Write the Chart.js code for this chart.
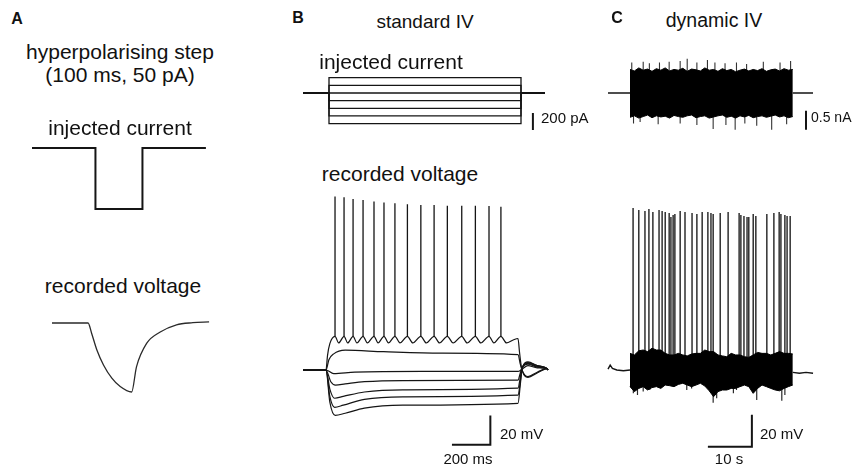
<!DOCTYPE html>
<html>
<head>
<meta charset="utf-8">
<script src="https://cdn.jsdelivr.net/npm/chart.js@4.4.1/dist/chart.umd.min.js"></script>
<style>
  html, body { margin: 0; padding: 0; background: #fff; }
  #fig { position: relative; width: 857px; height: 465px; overflow: hidden; font-family: "Liberation Sans", Arial, sans-serif; color: #111; }
  #fig canvas { position: absolute; }
  .lbl { position: absolute; white-space: nowrap; line-height: 1; }
</style>
</head>
<body>
<div id="fig"></div>
<script>
// ---- Panel A : hyperpolarising step (ms, pA / mV)
const stepTimeA = [0, 135, 135, 235, 235, 370];
const stepCurrentA = [0, 0, -50, -50, 0, 0];
const voltTimeA = [0, 82, 90, 102, 117, 136, 155, 181, 192, 215, 246, 283, 320, 357];
const voltA = [-70, -70, -71.7, -74.5, -77, -79.2, -80.6, -81.5, -77.3, -73.4, -71.5, -70.3, -69.95, -69.8];

// ---- Panel B : standard IV (ms, pA / mV)
const stepTimeB = [-135, 0, 0, 1000, 1000, 1125];
const stepLevelsB = [180, 90, 0, -90, -180, -270, -360];

const vTraceB1 = [[-120,-70],[0,-70],[8,-60],[20,-52],[47,-47],[66,-51.5],[94,-47],[113,-51.5],[141,-47],[161,-51.5],
  [193,-47],[215,-51.5],[250,-47],[271,-51.5],[302,-47],[325,-51.5],[359,-47],[385,-51.5],[424,-47],[452,-51.5],
  [494,-47],[522,-51.5],[563,-47],[591,-51.5],[632,-47],[662,-51.5],[707,-47],[735,-51.5],[778,-47],[806,-51.5],
  [849,-47],[874,-51.5],[911,-47],[940,-51.5],[975,-49.5],[1000,-48.5],[1008,-58],[1018,-68],[1052,-75],[1100,-72],[1151,-69],[1156,-70]];
const vTraceB2 = [[-120,-70],[0,-70],[15,-63],[40,-59],[100,-56.5],[300,-57.5],[600,-58.5],[1000,-59.5],[1012,-66],[1022,-70.5],[1052,-74.5],[1100,-71.5],[1151,-69],[1156,-70]];
const vTraceB3 = [[-120,-70],[0,-70],[40,-72.5],[150,-71.5],[500,-71],[1000,-71],[1020,-69.5],[1052,-67],[1100,-68.5],[1151,-69],[1156,-70]];
const vTraceB4 = [[-120,-70],[0,-70],[25,-78],[50,-80.3],[100,-79.5],[200,-78],[400,-77.2],[1000,-76.9],[1012,-72],[1022,-68.5],[1052,-66],[1100,-68],[1151,-69],[1156,-70]];
const vTraceB5 = [[-120,-70],[0,-70],[20,-83],[45,-89.3],[90,-88],[200,-85],[400,-83.5],[1000,-82.4],[1012,-75],[1022,-68.5],[1052,-65.5],[1100,-67.5],[1151,-69],[1156,-70]];
const vTraceB6 = [[-120,-70],[0,-70],[20,-88],[45,-95.5],[90,-94],[200,-90],[400,-88.3],[1000,-87.2],[1012,-78],[1022,-68.5],[1052,-65],[1100,-67],[1151,-69],[1156,-70]];
const vTraceB7 = [[-120,-70],[0,-70],[20,-92],[48,-101],[100,-99.5],[200,-96],[400,-94],[1000,-92.8],[1012,-80],[1022,-68.5],[1052,-64.5],[1100,-67],[1151,-69],[1156,-70]];
const spikeTimesB = [47, 94, 141, 193, 250, 302, 359, 424, 494, 563, 632, 707, 778, 849, 911];
const spikePeaksB = [48.4, 47.9, 46.8, 46.1, 45.0, 44.3, 43.8, 43.1, 42.6, 42.6, 42.2, 42.2, 42.2, 41.9, 41.5];

// ---- Panel C : dynamic IV (s, nA / mV)
const noiseTimesC = [0,1,2,3,4,5,6,7,8,9,10,11,12,13,14,15,16,17,18,19,20,21,22,23,24,25,26,27,28,29,30,31,32,33,34,35,36,37];
const currTopC = [0.62,0.58,0.66,0.6,0.63,0.57,0.64,0.6,0.66,0.58,0.62,0.6,0.65,0.57,0.63,0.61,0.58,0.66,0.6,0.62,0.57,0.64,0.59,0.62,0.56,0.6,0.63,0.58,0.62,0.59,0.64,0.57,0.61,0.63,0.58,0.64,0.6,0.62];
const currBotC = [-0.64,-0.6,-0.66,-0.62,-0.58,-0.65,-0.6,-0.63,-0.61,-0.66,-0.59,-0.62,-0.64,-0.6,-0.58,-0.65,-0.62,-0.6,-0.66,-0.63,-0.6,-0.58,-0.64,-0.61,-0.66,-0.6,-0.63,-0.59,-0.65,-0.62,-0.6,-0.64,-0.61,-0.58,-0.63,-0.6,-0.65,-0.62];
const currUpTimesC = [0.4, 3.0, 4.4, 6.7, 8.9, 11.4, 13.0, 15.2, 17.6, 19.3, 21.6, 24.2, 26.5, 30.3, 34.1, 36.5];
const currUpValsC = [0.8, 0.82, 0.78, 0.8, 0.82, 0.84, 0.9, 0.8, 0.87, 0.8, 0.78, 0.8, 0.76, 0.82, 0.8, 0.84];
const currDownTimesC = [0.8, 2.3, 6.4, 11.4, 15.2, 18.9, 21.8, 23.9, 26.1, 28.8, 32.2, 35.6];
const currDownValsC = [-0.8, -0.76, -0.82, -0.8, -0.84, -0.95, -0.84, -0.97, -0.8, -0.86, -0.97, -0.82];

const voltTopC = [-59.6,-60.6,-58,-57.5,-58.5,-56.4,-57.5,-57.5,-59.6,-60.6,-60.6,-59.6,-60.6,-61.2,-60,-59.6,-59.6,-57.5,-58.5,-58.5,-60.6,-61.2,-61.7,-59.6,-60.6,-60.6,-61.7,-62.1,-60.6,-59,-59.6,-59.6,-60.6,-59.6,-58.5,-59.6,-59.6,-60];
const voltBotC = [-80.4,-83.5,-81.5,-80.4,-82.5,-81,-80.4,-81.5,-79.4,-79.8,-80.4,-79,-78.3,-79.4,-80.4,-79.4,-78.3,-80,-83,-86.7,-83.5,-82.5,-82.5,-81.5,-81.5,-80.4,-79.4,-80.4,-84.6,-81.5,-79.4,-80.4,-81.5,-82.5,-83,-81.5,-80.4,-79.4];
const voltDownTimesC = [0.76, 1.7, 3.0, 4.5, 12.9, 14.0, 18.9, 19.7, 23.5, 24.2, 28.8, 34.5, 35.2];
const voltDownValsC = [-84.6, -85.6, -83.5, -82.5, -82.5, -81.5, -90.4, -87.7, -84.6, -82.5, -88.75, -89.2, -85.6];
const restLeftC = [[-5,-69.5],[-4.5,-67],[-4,-69],[-3,-70],[-1.5,-70.5],[0,-70]];
const restRightC = [[37,-71.5],[38.5,-72],[40,-71.5],[41.6,-72]];
const spikeTimesC = [0.7, 2.0, 3.4, 4.3, 5.2, 6.6, 7.3, 8.0, 8.9, 9.3, 9.8, 10.2, 11.4, 12.5, 14.1, 15.2, 16.4, 17.7, 18.4, 18.9,
  20.5, 22.3, 24.8, 25.2, 25.9, 26.6, 27.0, 28.0, 28.6, 31.1, 32.7, 33.9, 34.3, 35.2, 35.7, 36.4];
const spikePeaksC = [31.3, 30.0, 29.4, 30.6, 28.8, 30.0, 29.4, 28.8, 28.1, 25.6, 26.9, 27.5, 29.4, 28.8, 28.1, 27.5, 28.8, 28.8, 28.1, 27.5,
  28.1, 28.8, 28.1, 26.9, 26.3, 25.6, 25.6, 27.5, 26.3, 27.5, 28.1, 28.8, 27.5, 26.9, 26.3, 26.3];

const INK = '#151515';
const fig = document.getElementById('fig');

const pts = (xs, ys) => xs.map((x, i) => ({ x: x, y: ys[i] }));
const pairs = arr => arr.map(p => ({ x: p[0], y: p[1] }));
// vertical strokes from a base level, broken by gaps
const strokes = (ts, base, tops) => ts.flatMap((t, i) => [
  { x: t, y: Array.isArray(base) ? base[i] : base }, { x: t, y: tops[i] }, { x: t, y: null }
]);

function line(data, opts) {
  return Object.assign({ data: data, borderColor: INK, borderWidth: 1.2, pointRadius: 0, fill: false, tension: 0 }, opts || {});
}

// one chart per trace block; the scale range is chosen so that data units land at the right spot
function block(box, xmap, ymap, datasets) {
  const cv = document.createElement('canvas');
  cv.width = box.w; cv.height = box.h;
  cv.style.left = box.x + 'px'; cv.style.top = box.y + 'px';
  fig.appendChild(cv);
  const xMin = xmap.val + (box.x - xmap.px) / xmap.scale;
  const xMax = xmap.val + (box.x + box.w - xmap.px) / xmap.scale;
  const yMax = ymap.val + (ymap.px - box.y) / ymap.scale;
  const yMin = ymap.val + (ymap.px - box.y - box.h) / ymap.scale;
  return new Chart(cv, {
    type: 'line',
    data: { datasets: datasets },
    options: {
      responsive: false,
      animation: false,
      events: [],
      layout: { padding: 0 },
      plugins: { legend: { display: false }, tooltip: { enabled: false }, title: { display: false } },
      scales: {
        x: { type: 'linear', display: false, min: xMin, max: xMax },
        y: { type: 'linear', display: false, min: yMin, max: yMax }
      }
    }
  });
}

function label(text, x, y, size, opts) {
  opts = opts || {};
  const d = document.createElement('div');
  d.className = 'lbl';
  d.textContent = text;
  d.style.left = x + 'px';
  d.style.top = y + 'px';
  d.style.fontSize = size + 'px';
  if (opts.bold) d.style.fontWeight = 'bold';
  d.style.transform = opts.left ? 'translate(0,-50%)' : 'translate(-50%,-50%)';
  fig.appendChild(d);
}

// ---------- Panel A
block({ x: 20, y: 135, w: 200, h: 90 }, { px: 32, val: 0, scale: 0.47 }, { px: 148, val: 0, scale: 1.22 }, [
  line(pts(stepTimeA, stepCurrentA), { borderWidth: 2 })
]);
block({ x: 40, y: 305, w: 185, h: 100 }, { px: 52, val: 0, scale: 0.44 }, { px: 323, val: -70, scale: 6 }, [
  line(pts(voltTimeA, voltA), { cubicInterpolationMode: 'monotone', borderWidth: 1.3, borderColor: '#2a2a2a' })
]);

// ---------- Panel B
block({ x: 295, y: 65, w: 260, h: 75 }, { px: 329, val: 0, scale: 0.192 }, { px: 93, val: 0, scale: 0.085 },
  stepLevelsB.map(l => line(pts(stepTimeB, [0, 0, l, l, 0, 0]), { borderWidth: 1.3 }))
    .concat([line([{ x: 1062, y: -235 }, { x: 1062, y: -435 }], { borderWidth: 2 })])
);
block({ x: 295, y: 185, w: 260, h: 270 }, { px: 326, val: 0, scale: 0.192 }, { px: 370, val: -70, scale: 1.465 },
  [vTraceB1, vTraceB2, vTraceB3, vTraceB4, vTraceB5, vTraceB6, vTraceB7]
    .map(tr => line(pairs(tr), { cubicInterpolationMode: 'monotone' }))
    .concat([
      line(strokes(spikeTimesB, -47, spikePeaksB), { borderWidth: 1.3 }),
      line([{ x: 656, y: -121 }, { x: 856, y: -121 }, { x: 856, y: -101 }], { borderWidth: 2 })
    ])
);

// ---------- Panel C
block({ x: 600, y: 50, w: 220, h: 90 }, { px: 630, val: 0, scale: 4.4 }, { px: 93, val: 0, scale: 38 }, [
  line(pts(noiseTimesC, currTopC), { fill: '+1', backgroundColor: '#000', borderColor: '#000', borderWidth: 1 }),
  line(pts(noiseTimesC, currBotC), { borderColor: '#000', borderWidth: 1 }),
  line(strokes(currUpTimesC, 0, currUpValsC), { borderColor: '#333', borderWidth: 1.1 }),
  line(strokes(currDownTimesC, 0, currDownValsC), { borderColor: '#333', borderWidth: 1.1 }),
  line([{ x: -5, y: 0 }, { x: 0, y: 0 }, { x: null, y: null }, { x: 37, y: 0 }, { x: 41.6, y: 0 }], { borderWidth: 1.3 }),
  line([{ x: 40, y: -0.47 }, { x: 40, y: -0.97 }], { borderWidth: 2 })
]);
block({ x: 600, y: 195, w: 220, h: 265 }, { px: 630, val: 0, scale: 4.4 }, { px: 370, val: -70, scale: 1.6 }, [
  line(pts(noiseTimesC, voltTopC), { fill: '+1', backgroundColor: '#000', borderColor: '#000', borderWidth: 1 }),
  line(pts(noiseTimesC, voltBotC), { borderColor: '#000', borderWidth: 1 }),
  line(strokes(voltDownTimesC, -70, voltDownValsC), { borderColor: '#2a2a2a', borderWidth: 1.2 }),
  line(strokes(spikeTimesC, -62, spikePeaksC), { borderColor: '#222', borderWidth: 1.4 }),
  line(pairs(restLeftC), { borderWidth: 1.4 }),
  line(pairs(restRightC), { borderWidth: 1.4 }),
  line([{ x: 17.7, y: -118 }, { x: 27.7, y: -118 }, { x: 27.7, y: -98 }], { borderWidth: 2 })
]);

// ---------- Text
label('A', 17, 19, 16, { bold: true });
label('hyperpolarising step', 120, 51, 21);
label('(100 ms, 50 pA)', 120, 74, 21);
label('injected current', 120, 127, 21);
label('recorded voltage', 123, 285, 21);

label('B', 298, 18, 16, { bold: true });
label('standard IV', 425, 21, 19);
label('injected current', 391, 61, 21);
label('recorded voltage', 400, 173, 21);
label('200 pA', 541, 117, 15, { left: true });
label('20 mV', 500, 433, 15, { left: true });
label('200 ms', 468, 458, 15);

label('C', 617, 18, 16, { bold: true });
label('dynamic IV', 714, 21, 19.5);
label('0.5 nA', 811, 117, 14, { left: true });
label('20 mV', 760, 433, 15, { left: true });
label('10 s', 729, 458, 15);
</script>
</body>
</html>
